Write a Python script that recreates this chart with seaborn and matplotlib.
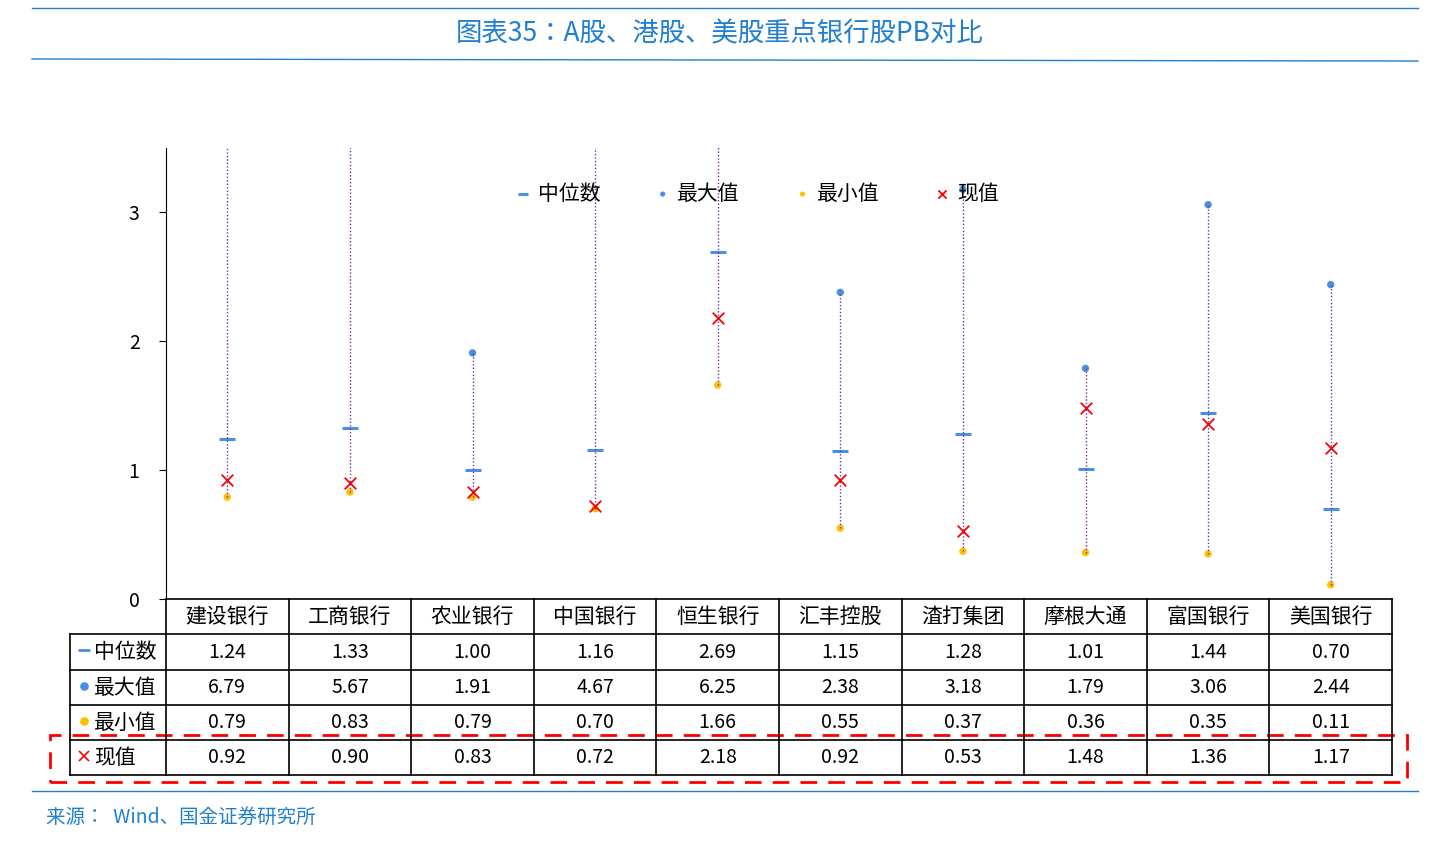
import numpy as np
import pandas as pd
import matplotlib.pyplot as plt
import seaborn as sns
from matplotlib import font_manager
from matplotlib.lines import Line2D
from matplotlib.patches import Rectangle

# pick whatever CJK family matplotlib actually registered
cjk = [f.name for f in font_manager.fontManager.ttflist if "CJK" in f.name]
pref = [n for n in ["Noto Sans CJK SC", "Noto Sans CJK JP", "Noto Sans CJK TC", "Noto Sans CJK KR"] if n in cjk]
fam = pref[:1] or cjk[:1]
plt.rcParams["font.family"] = fam + ["DejaVu Sans"]
plt.rcParams["axes.unicode_minus"] = False

banks = ["建设银行", "工商银行", "农业银行", "中国银行", "恒生银行",
         "汇丰控股", "渣打集团", "摩根大通", "富国银行", "美国银行"]
median_pb = [1.24, 1.33, 1.00, 1.16, 2.69, 1.15, 1.28, 1.01, 1.44, 0.70]
max_pb = [6.79, 5.67, 1.91, 4.67, 6.25, 2.38, 3.18, 1.79, 3.06, 2.44]
min_pb = [0.79, 0.83, 0.79, 0.70, 1.66, 0.55, 0.37, 0.36, 0.35, 0.11]
cur_pb = [0.92, 0.90, 0.83, 0.72, 2.18, 0.92, 0.53, 1.48, 1.36, 1.17]

W, H = 1440, 849
fig = plt.figure(figsize=(W / 100, H / 100), dpi=100)
fx = lambda px: px / W
fy = lambda py: 1 - py / H

BLUE = "#4a90e2"
GOLD = "#ffc000"
RED = "#ff0000"
PURPLE = "#7030a0"
TITLE_BLUE = "#1f7fd0"

# title and rules
fig.text(0.5, fy(34), "图表35：A股、港股、美股重点银行股PB对比", ha="center", va="center",
         fontsize=19, color=TITLE_BLUE)
fig.add_artist(Line2D([fx(32), fx(1418)], [fy(8), fy(8)], color=TITLE_BLUE, lw=1))
fig.add_artist(Line2D([fx(32), fx(1418)], [fy(59), fy(61)], color=TITLE_BLUE, lw=1))
fig.add_artist(Line2D([fx(32), fx(1418)], [fy(791), fy(791)], color=TITLE_BLUE, lw=1))
fig.text(fx(46), fy(817), "来源：  Wind、国金证券研究所", ha="left", va="center",
         fontsize=14, color=TITLE_BLUE, style="italic")

ax = fig.add_axes([fx(166), fy(599), fx(1392) - fx(166), fy(148) - fy(599)])
x = np.arange(len(banks))
ax.vlines(x, min_pb, max_pb, colors=PURPLE, linestyles=(0, (1, 1.5)), lw=1)

df = pd.DataFrame({"x": x, "median": median_pb, "max": max_pb, "min": min_pb, "cur": cur_pb})
sns.scatterplot(data=df, x="x", y="median", marker="_", s=120, linewidth=2.2, color=BLUE, ax=ax, label="中位数")
sns.scatterplot(data=df, x="x", y="max", marker="o", s=28, color=BLUE, edgecolor="none", ax=ax, label="最大值")
sns.scatterplot(data=df, x="x", y="min", marker="o", s=28, color=GOLD, edgecolor="none", ax=ax, label="最小值")
sns.scatterplot(data=df, x="x", y="cur", marker="x", s=70, linewidth=1.3, color=RED, ax=ax, label="现值")

ax.set_xlim(-0.5, len(banks) - 0.5)
ax.set_ylim(0, 3.5)
ax.set_yticks([0, 1, 2, 3])
ax.set_xticks([])
ax.set_xlabel("")
ax.set_ylabel("")
ax.tick_params(axis="y", labelsize=14, length=5, direction="out", pad=14)
for s in ["top", "right", "bottom"]:
    ax.spines[s].set_visible(False)
ax.spines["left"].set_color("black")
ax.legend(loc="upper center", bbox_to_anchor=(0.48, 0.965), ncol=4, frameon=False,
          fontsize=15, handletextpad=0.1, columnspacing=2.4, markerscale=0.7,
          handlelength=1.2)

# table
cell_w = (1392 - 166) / len(banks)
rows_y = [599, 634, 670, 705, 740, 775]
lw = 1.2
fig.add_artist(Line2D([fx(166), fx(1392)], [fy(599), fy(599)], color="black", lw=lw))
for yy in rows_y[1:]:
    fig.add_artist(Line2D([fx(70), fx(1392)], [fy(yy), fy(yy)], color="black", lw=lw))
for i in range(len(banks) + 1):
    xx = 166 + i * cell_w
    fig.add_artist(Line2D([fx(xx), fx(xx)], [fy(599), fy(775)], color="black", lw=lw))
fig.add_artist(Line2D([fx(70), fx(70)], [fy(634), fy(775)], color="black", lw=lw))

for i, b in enumerate(banks):
    cx = 166 + (i + 0.5) * cell_w
    fig.text(fx(cx), fy(617), b, ha="center", va="center", fontsize=15)

row_data = [median_pb, max_pb, min_pb, cur_pb]
row_names = ["中位数", "最大值", "最小值", "现值"]
row_marks = [("_", BLUE), ("o", BLUE), ("o", GOLD), ("x", RED)]
for r, (vals, name, (mk, col)) in enumerate(zip(row_data, row_names, row_marks)):
    cy = (rows_y[r + 1] + rows_y[r + 2]) / 2
    fig.add_artist(Line2D([fx(84)], [fy(cy - 2)], marker=mk, color=col,
                          markersize=9 if mk == "_" else (5 if mk == "o" else 7),
                          markeredgewidth=2 if mk == "_" else 1.2, linestyle="none"))
    fig.text(fx(94), fy(cy), name, ha="left", va="center", fontsize=15)
    for i, v in enumerate(vals):
        cx = 166 + (i + 0.5) * cell_w
        fig.text(fx(cx), fy(cy), f"{v:.2f}", ha="center", va="center", fontsize=14)

fig.add_artist(Rectangle((fx(50), fy(782)), fx(1407) - fx(50), fy(735) - fy(782),
                         fill=False, edgecolor=RED, lw=2, linestyle=(0, (6, 4))))

fig.savefig("out.png", dpi=100)
